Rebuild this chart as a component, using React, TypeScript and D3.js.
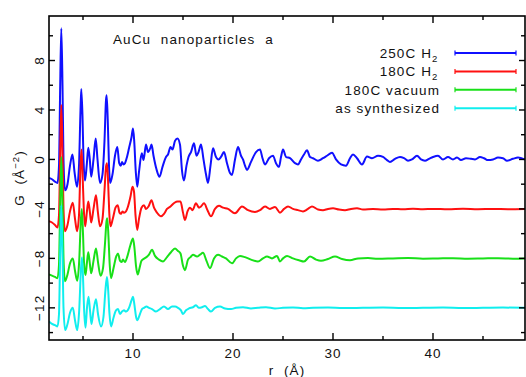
import React from "react";
import * as d3 from "d3";

const seriesNames = ["250C H2", "180C H2", "180C vacuum", "as synthesized"];
const seriesColors = ["#1010ff", "#ff1010", "#18e018", "#10eeee"];

const blue: [number, number][] = [
  [1.6, -1.5], [1.9, -1.6], [2.2, -1.8], [2.45, -1.9], [2.6, -0.5], [2.72, 6.0], [2.83, 10.6], [2.95, 6.0],
  [3.05, 0.0], [3.2, -2.5], [3.45, -2.0], [3.7, -0.5], [3.95, 0.4], [4.15, -1.0], [4.4, -2.2], [4.6, -0.5],
  [4.75, 4.0], [4.83, 5.7], [4.95, 3.5], [5.05, 0.0], [5.2, -1.7], [5.38, -0.4], [5.53, 0.95], [5.68, 0.0],
  [5.82, -1.4], [6.05, 0.0], [6.27, 1.7], [6.45, 0.0], [6.7, -1.9], [6.95, -1.2], [7.15, 1.5], [7.3, 4.8],
  [7.37, 5.2], [7.5, 2.5], [7.6, -0.5], [7.72, -1.9], [7.95, -1.2], [8.2, 0.3], [8.43, 1.0], [8.62, -0.3],
  [8.78, -0.5], [8.9, -0.2], [9.05, -0.4], [9.2, -0.3], [9.4, 0.2], [9.6, 0.9], [9.85, 1.8], [10.0, 2.5],
  [10.12, 1.5], [10.28, -1.0], [10.43, -2.2], [10.6, -1.0], [10.88, 0.5], [11.05, -0.05], [11.3, 1.2],
  [11.5, 0.6], [11.72, 0.9], [11.85, 1.2], [12.05, 0.3], [12.35, -0.8], [12.65, -1.4], [12.95, -0.6],
  [13.3, 0.2], [13.5, 0.4], [13.75, 1.0], [13.95, 0.8], [14.2, 1.5], [14.45, 1.7], [14.7, 1.2], [14.9, -0.9],
  [15.1, -1.7], [15.35, -0.5], [15.55, 0.2], [15.8, 0.6], [16.1, 1.3], [16.35, 0.3], [16.55, 0.6], [16.8, 1.2],
  [17.05, 0.0], [17.3, -1.2], [17.5, -1.9], [17.75, -0.5], [18.0, 0.9], [18.3, 0.2], [18.55, 0.0], [18.8, 0.2],
  [19.1, 0.6], [19.4, -0.3], [19.7, -1.1], [19.9, -1.25], [20.2, 0.0], [20.5, 1.0], [20.8, 0.3], [21.0, 0.0],
  [21.2, -0.5], [21.4, -0.85], [21.8, -0.2], [22.3, 0.6], [22.7, 0.8], [22.95, 0.1], [23.2, -0.4], [23.6, 0.1],
  [24.0, 0.3], [24.3, -0.3], [24.6, -0.6], [24.8, 0.2], [25.0, 0.8], [25.3, 0.2], [25.7, 0.1], [26.2, -0.3],
  [26.5, -0.4], [26.8, 0.0], [27.1, 0.4], [27.4, 0.75], [27.7, 0.2], [28.0, 0.1], [28.5, -0.1], [29.0, 0.1],
  [29.4, 0.3], [29.9, 0.55], [30.3, 0.0], [30.8, -0.4], [31.3, -0.5], [31.7, 0.1], [32.0, 0.4], [32.4, 0.1],
  [32.9, -0.4], [33.4, 0.23], [33.9, 0.1], [34.5, 0.3], [35.0, 0.2], [35.4, -0.05], [35.7, -0.2], [36.2, 0.05],
  [36.7, 0.2], [37.1, 0.1], [37.5, -0.1], [37.9, 0.0], [38.4, 0.3], [38.8, 0.0], [39.2, -0.1], [39.6, 0.05],
  [40.0, 0.2], [40.5, 0.3], [41.0, 0.0], [41.5, 0.2], [42.0, 0.0], [42.4, 0.15], [42.8, -0.05], [43.3, 0.1],
  [43.8, 0.05], [44.2, 0.0], [44.7, 0.2], [45.1, 0.1], [45.5, -0.05], [46.0, 0.0], [46.5, 0.15], [47.0, 0.1],
  [47.4, -0.1], [48.0, 0.05], [48.5, 0.15], [49.2, 0.0],
];

const red: [number, number][] = [
  [1.6, -5.0], [1.9, -5.1], [2.2, -5.3], [2.45, -5.5], [2.6, -4.5], [2.72, 0.5], [2.83, 4.4], [2.95, 0.5],
  [3.05, -4.0], [3.2, -5.8], [3.45, -5.3], [3.7, -4.2], [3.98, -3.5], [4.2, -4.8], [4.4, -5.8], [4.6, -4.5],
  [4.75, -0.5], [4.85, 0.8], [4.97, -1.5], [5.08, -4.0], [5.22, -5.4], [5.38, -4.3], [5.53, -3.4], [5.68, -4.2],
  [5.82, -5.1], [6.05, -4.0], [6.3, -2.9], [6.48, -4.2], [6.7, -5.4], [6.95, -4.8], [7.15, -2.5], [7.3, -0.6],
  [7.4, -0.3], [7.52, -2.0], [7.62, -4.2], [7.75, -5.4], [7.98, -4.8], [8.25, -3.9], [8.47, -3.7], [8.65, -4.3],
  [8.8, -4.4], [8.95, -4.2], [9.1, -4.3], [9.3, -4.2], [9.5, -3.8], [9.75, -3.0], [9.95, -2.2], [10.1, -2.6],
  [10.25, -4.5], [10.42, -5.7], [10.6, -4.8], [10.85, -3.9], [11.1, -3.7], [11.3, -4.0], [11.55, -3.8],
  [11.85, -3.3], [12.1, -3.9], [12.4, -4.3], [12.8, -4.6], [13.1, -4.4], [13.4, -4.0], [13.75, -3.8],
  [14.15, -3.5], [14.45, -3.4], [14.75, -3.4], [15.0, -4.3], [15.2, -4.9], [15.45, -4.2], [15.7, -3.9],
  [15.95, -4.1], [16.3, -3.55], [16.6, -3.9], [16.8, -3.8], [17.1, -3.55], [17.45, -4.1], [17.8, -4.6],
  [18.2, -4.0], [18.6, -3.75], [19.0, -3.9], [19.5, -4.0], [20.2, -4.35], [20.9, -3.8], [21.5, -4.1],
  [22.2, -4.25], [22.7, -4.1], [23.2, -3.8], [23.7, -4.0], [24.2, -3.85], [24.7, -4.3], [25.1, -4.0],
  [25.5, -3.8], [26.0, -4.0], [26.5, -4.1], [27.0, -4.2], [27.5, -4.0], [27.9, -3.8], [28.5, -4.05],
  [29.0, -4.1], [29.5, -4.0], [30.0, -3.95], [30.6, -4.05], [31.2, -4.1], [31.8, -4.0], [32.4, -3.95],
  [33.0, -4.05], [34.0, -4.0], [35.0, -4.05], [36.0, -4.0], [37.0, -4.03], [38.0, -3.98], [39.0, -4.02],
  [40.0, -4.0], [41.5, -4.03], [43.0, -3.98], [44.5, -4.02], [46.0, -4.0], [47.5, -4.02], [49.2, -4.0],
];

const green: [number, number][] = [
  [1.6, -9.3], [1.9, -9.4], [2.2, -9.5], [2.45, -9.6], [2.6, -8.5], [2.72, -3.5], [2.83, 0.2], [2.95, -3.5],
  [3.05, -8.0], [3.2, -9.85], [3.45, -9.3], [3.7, -8.4], [3.98, -8.0], [4.2, -9.0], [4.42, -9.8], [4.62, -8.2],
  [4.78, -5.0], [4.88, -4.0], [5.0, -6.0], [5.1, -8.3], [5.25, -9.35], [5.4, -8.3], [5.53, -7.5], [5.68, -8.4],
  [5.82, -9.2], [6.05, -8.2], [6.3, -7.2], [6.5, -8.3], [6.75, -9.4], [7.0, -8.8], [7.2, -6.8], [7.35, -5.0],
  [7.43, -4.75], [7.55, -6.3], [7.67, -8.5], [7.8, -9.6], [8.05, -8.8], [8.3, -7.9], [8.5, -7.6], [8.7, -8.2],
  [8.85, -8.3], [9.0, -8.1], [9.2, -8.3], [9.45, -7.8], [9.75, -6.9], [10.0, -6.4], [10.15, -7.2], [10.3, -8.6],
  [10.47, -9.3], [10.65, -8.8], [10.85, -8.2], [11.15, -8.0], [11.35, -7.9], [11.6, -7.7], [11.9, -7.3],
  [12.2, -7.8], [12.6, -8.1], [13.0, -8.25], [13.4, -7.9], [13.8, -7.5], [14.2, -7.2], [14.5, -7.4],
  [14.75, -7.6], [15.0, -8.6], [15.2, -8.95], [15.5, -8.1], [15.75, -7.9], [16.0, -7.7], [16.4, -7.85],
  [16.7, -7.7], [17.0, -7.55], [17.35, -8.2], [17.7, -8.8], [18.1, -8.0], [18.5, -7.7], [18.9, -7.85],
  [19.3, -8.0], [19.9, -8.4], [20.3, -8.0], [20.7, -7.8], [21.2, -7.9], [21.8, -8.1], [22.5, -8.25],
  [23.0, -8.0], [23.4, -7.85], [23.9, -8.0], [24.4, -7.8], [24.7, -8.25], [25.0, -8.0], [25.4, -7.8],
  [26.0, -8.0], [26.6, -8.15], [27.1, -8.25], [27.7, -7.85], [28.3, -8.1], [28.8, -8.2], [29.5, -8.05],
  [30.2, -7.85], [30.9, -8.05], [31.7, -8.15], [32.5, -8.0], [33.5, -7.97], [34.5, -8.03], [36.0, -8.0],
  [37.5, -7.97], [39.0, -8.02], [40.5, -8.0], [42.0, -7.98], [43.5, -8.02], [45.0, -8.0], [46.5, -7.98],
  [48.0, -8.02], [49.2, -8.0],
];

const cyan: [number, number][] = [
  [1.6, -13.1], [1.9, -13.3], [2.2, -13.4], [2.45, -13.5], [2.6, -12.5], [2.72, -7.5], [2.83, -3.7],
  [2.95, -7.5], [3.05, -12.0], [3.22, -13.8], [3.45, -13.3], [3.7, -12.4], [3.98, -12.0], [4.2, -13.0],
  [4.42, -13.8], [4.62, -12.2], [4.8, -8.8], [4.9, -7.9], [5.0, -9.5], [5.12, -12.3], [5.25, -13.6],
  [5.4, -12.0], [5.55, -11.1], [5.7, -12.2], [5.85, -13.3], [6.05, -12.2], [6.3, -11.3], [6.5, -12.5],
  [6.8, -13.5], [7.05, -12.7], [7.25, -10.5], [7.4, -9.5], [7.52, -10.6], [7.65, -12.5], [7.8, -13.5],
  [8.05, -12.8], [8.3, -12.2], [8.5, -12.1], [8.7, -12.5], [8.9, -12.3], [9.1, -12.2], [9.3, -12.3],
  [9.6, -12.0], [9.85, -11.4], [10.0, -11.1], [10.15, -11.8], [10.3, -12.7], [10.45, -13.0], [10.65, -12.6],
  [10.9, -12.1], [11.1, -12.0], [11.35, -11.9], [11.6, -12.0], [11.9, -12.1], [12.3, -12.3], [12.7, -12.1],
  [13.1, -11.9], [13.5, -12.1], [13.9, -11.9], [14.2, -11.9], [14.5, -12.0], [14.8, -12.2], [15.0, -12.5],
  [15.3, -12.2], [15.6, -12.05], [16.0, -11.95], [16.3, -11.8], [16.6, -12.0], [16.9, -11.95], [17.2, -11.85],
  [17.5, -12.1], [17.8, -12.3], [18.2, -12.0], [18.7, -11.9], [19.2, -12.05], [19.8, -12.1], [20.3, -12.0],
  [21.0, -11.95], [21.8, -12.05], [22.5, -12.0], [23.3, -11.95], [24.2, -12.05], [25.0, -12.0],
  [26.0, -11.97], [27.0, -12.03], [28.0, -12.0], [29.5, -11.98], [31.0, -12.02], [33.0, -12.0],
  [35.0, -11.98], [37.0, -12.02], [39.0, -12.0], [41.0, -11.98], [43.0, -12.02], [45.0, -12.0],
  [47.0, -11.98], [49.2, -12.0],
];

const xMajorTicks = [10, 20, 30, 40];
const xMinorTicks = [5, 15, 25, 35, 45];
const yMajorTicks = [-12, -8, -4, 0, 4, 8];
const yMinorTicks = [-14, -10, -6, -2, 2, 6, 10];

const titleText = "AuCu  nanoparticles  a";

export default function App() {
  const W = 526, H = 377;
  const L = 49, R = 525, T = 16, B = 340;
  const x = d3.scaleLinear().domain([1.6, 49.2]).range([L, R]);
  const y = d3.scaleLinear().domain([-14.6, 11.6]).range([B, T]);
  const line = d3
    .line<[number, number]>()
    .x((d) => x(d[0]))
    .y((d) => y(d[1]))
    .curve(d3.curveMonotoneX);
  const all = [blue, red, green, cyan];
  const font = "'Liberation Sans', Arial, sans-serif";
  const fmt = (v: number) => (v < 0 ? "\u2212" + Math.abs(v) : String(v));
  const legendY0 = 53;
  const legendDy = 18.4;
  const ls = 1.1;

  return (
    <svg width={W} height={H} style={{ position: "absolute", left: 0, top: 0, background: "#fff" }}
      fontFamily={font} fill="#111">
      <defs>
        <clipPath id="plotclip">
          <rect x={L} y={T} width={R - L} height={B - T} />
        </clipPath>
      </defs>
      <g clipPath="url(#plotclip)">
        {all.map((s, i) => (
          <path key={i} d={line(s) || ""} fill="none" stroke={seriesColors[i]} strokeWidth={2}
            strokeLinejoin="round" />
        ))}
      </g>
      {/* frame */}
      <rect x={L} y={T} width={R - L} height={B - T} fill="none" stroke="#000" strokeWidth={1.6} />
      {/* x ticks */}
      {xMajorTicks.map((t) => (
        <g key={"xM" + t}>
          <line x1={x(t)} x2={x(t)} y1={B} y2={B - 7} stroke="#000" strokeWidth={1.4} />
          <line x1={x(t)} x2={x(t)} y1={T} y2={T + 7} stroke="#000" strokeWidth={1.4} />
          <text x={x(t)} y={358} textAnchor="middle" fontSize={13.5} letterSpacing={ls}>{t}</text>
        </g>
      ))}
      {xMinorTicks.map((t) => (
        <g key={"xm" + t}>
          <line x1={x(t)} x2={x(t)} y1={B} y2={B - 4} stroke="#000" strokeWidth={1.4} />
          <line x1={x(t)} x2={x(t)} y1={T} y2={T + 4} stroke="#000" strokeWidth={1.4} />
        </g>
      ))}
      {/* y ticks */}
      {yMajorTicks.map((t) => (
        <g key={"yM" + t}>
          <line x1={L} x2={L + 6} y1={y(t)} y2={y(t)} stroke="#000" strokeWidth={1.4} />
          <line x1={R} x2={R - 6} y1={y(t)} y2={y(t)} stroke="#000" strokeWidth={1.4} />
          <text transform={`translate(44,${y(t)}) rotate(-90)`} textAnchor="middle" fontSize={13.5}
            letterSpacing={ls}>
            {fmt(t)}
          </text>
        </g>
      ))}
      {yMinorTicks.map((t) => (
        <g key={"ym" + t}>
          <line x1={L} x2={L + 4} y1={y(t)} y2={y(t)} stroke="#000" strokeWidth={1.4} />
          <line x1={R} x2={R - 4} y1={y(t)} y2={y(t)} stroke="#000" strokeWidth={1.4} />
        </g>
      ))}
      {/* axis labels */}
      <text x={(L + R) / 2} y={375} textAnchor="middle" fontSize={13.5} letterSpacing={ls}
        style={{ whiteSpace: "pre" }}>r  (Å)</text>
      <text transform={`translate(24,${(T + B) / 2}) rotate(-90)`} textAnchor="middle" fontSize={13.5}
        letterSpacing={ls} style={{ whiteSpace: "pre" }}>
        G  (Å<tspan dy={-5} fontSize={9.5}>−2</tspan><tspan dy={5}>)</tspan>
      </text>
      {/* title */}
      <text x={113} y={44} fontSize={13.5} letterSpacing={ls} style={{ whiteSpace: "pre" }}>{titleText}</text>
      {/* legend */}
      {seriesNames.map((n, i) => {
        const ly = legendY0 + i * legendDy;
        const isH2 = n.endsWith("H2");
        return (
          <g key={"lg" + i}>
            <text x={isH2 ? 432 : 440} y={ly + 5} textAnchor="end" fontSize={13.5} letterSpacing={ls}>
              {isH2 ? n.slice(0, -1) : n}
            </text>
            {isH2 && (
              <text x={432} y={ly + 9} fontSize={9.5}>2</text>
            )}
            <line x1={455} x2={516} y1={ly} y2={ly} stroke={seriesColors[i]} strokeWidth={2} />
            <line x1={455} x2={455} y1={ly - 2.5} y2={ly + 2.5} stroke={seriesColors[i]} strokeWidth={1.2} />
            <line x1={516} x2={516} y1={ly - 2.5} y2={ly + 2.5} stroke={seriesColors[i]} strokeWidth={1.2} />
          </g>
        );
      })}
    </svg>
  );
}
